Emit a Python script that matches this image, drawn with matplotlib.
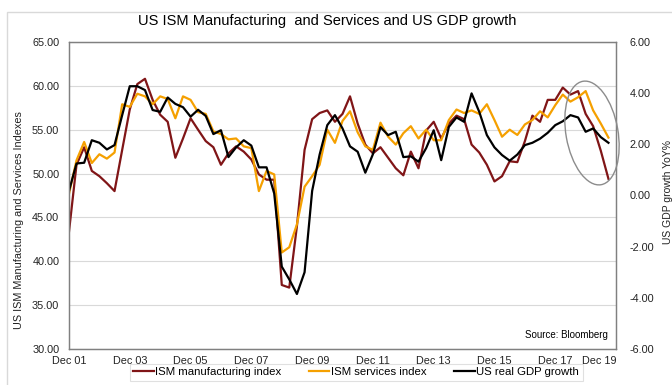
import matplotlib
matplotlib.use("Agg")
import matplotlib.pyplot as plt
from matplotlib.patches import Ellipse, Rectangle
import pandas as pd

plt.rcParams['font.family'] = ['Liberation Sans', 'DejaVu Sans']

# quarterly observations, Dec 2001 .. Sep 2019
quarters = pd.date_range('2001-12-01', periods=72, freq='3MS')

ism_manufacturing = [
    43.4, 51.0, 53.0, 50.3, 49.7, 48.9, 48.0, 52.7, 57.3, 60.2, 60.8, 58.4,
    56.7, 55.9, 51.8, 54.0, 56.3, 55.0, 53.7, 53.0, 51.0, 52.3, 53.1, 52.5,
    51.6, 49.9, 49.3, 49.3, 37.3, 37.0, 44.0, 52.7, 56.2, 56.9, 57.2, 55.9,
    56.8, 58.8, 55.7, 53.3, 52.3, 53.0, 51.8, 50.6, 49.8, 52.5, 50.6, 54.9,
    55.9, 54.0, 55.7, 56.6, 56.2, 53.3, 52.4, 51.0, 49.1, 49.7, 51.4, 51.3,
    53.7, 56.6, 55.9, 58.4, 58.4, 59.8, 59.0, 59.4, 56.8, 55.4, 52.6, 49.4]

ism_services = [
    47.7, 51.5, 53.6, 51.2, 52.2, 51.7, 52.4, 57.9, 57.6, 59.1, 58.8, 57.9,
    58.8, 58.5, 56.3, 58.8, 58.4, 57.0, 56.8, 54.8, 54.5, 53.9, 54.0, 53.1,
    52.9, 48.0, 50.3, 49.9, 41.0, 41.6, 44.2, 48.5, 49.7, 51.0, 55.0, 53.5,
    56.0, 57.1, 54.7, 53.1, 52.7, 55.8, 54.2, 53.3, 54.6, 55.4, 54.0, 55.0,
    53.8, 53.8, 56.1, 57.3, 56.9, 57.2, 56.8, 57.9, 56.1, 54.2, 55.0, 54.4,
    55.6, 56.1, 57.1, 56.4, 57.8, 59.0, 58.2, 58.7, 59.4, 57.2, 55.7, 54.1]

gdp_growth = [
    0.18, 1.25, 1.28, 2.16, 2.06, 1.80, 1.97, 3.14, 4.27, 4.27, 4.12, 3.34,
    3.27, 3.83, 3.58, 3.45, 3.08, 3.35, 3.11, 2.40, 2.55, 1.50, 1.88, 2.16,
    1.95, 1.10, 1.10, 0.08, -2.78, -3.28, -3.85, -3.00, 0.18, 1.60, 2.75, 3.14,
    2.62, 1.92, 1.71, 0.89, 1.61, 2.67, 2.36, 2.49, 1.50, 1.53, 1.32, 1.85,
    2.55, 1.38, 2.68, 3.05, 2.88, 3.99, 3.27, 2.36, 1.88, 1.58, 1.36, 1.60,
    1.97, 2.06, 2.22, 2.45, 2.75, 2.90, 3.14, 3.05, 2.49, 2.62, 2.28, 2.06]

tick_dates = pd.date_range('2001-12-01', periods=10, freq='24MS')
tick_labels = ['Dec 01', 'Dec 03', 'Dec 05', 'Dec 07', 'Dec 09',
               'Dec 11', 'Dec 13', 'Dec 15', 'Dec 17', 'Dec 19']

fig = plt.figure(figsize=(6.72, 3.85), dpi=100)
ax = fig.add_axes([0.1027, 0.0935, 0.814, 0.7975])
ax2 = ax.twinx()

ln1, = ax.plot(quarters, ism_manufacturing, color='#801517', lw=1.6)
ln2, = ax.plot(quarters, ism_services, color='#f5a000', lw=1.6)
ln3, = ax2.plot(quarters, gdp_growth, color='black', lw=1.6)

ax.set_ylim(30, 65)
ax.set_yticks(range(30, 66, 5))
ax.set_yticklabels([f'{v:.2f}' for v in range(30, 66, 5)])
ax2.set_ylim(-6, 6)
ax2.set_yticks(range(-6, 7, 2))
ax2.set_yticklabels([f'{v:.2f}' for v in range(-6, 7, 2)])

ax.set_xlim(tick_dates[0], tick_dates[-1])
ax.set_xticks(tick_dates)
ax.set_xticklabels(tick_labels)
ax.get_xticklabels()[-1].set_horizontalalignment('right')

ax.grid(axis='y', color='#d9d9d9', lw=0.8)
ax.set_axisbelow(True)
for a in (ax, ax2):
    a.tick_params(length=0, labelsize=7.8, colors='#222222')
    for s in a.spines.values():
        s.set_color('#808080')
        s.set_linewidth(0.9)
ax.tick_params(axis='y', pad=7)
ax2.tick_params(axis='y', pad=10)
ax.tick_params(axis='x', pad=5)

ax.set_ylabel('US ISM Manufacturing and Services Indexes', fontsize=7.8, color='#222222')
ax.yaxis.set_label_coords(-0.082, 0.42)
ax2.set_ylabel('US GDP growth YoY%', fontsize=7.5, color='#222222')
ax2.yaxis.set_label_coords(1.086, 0.51)

fig.text(0.487, 0.945, 'US ISM Manufacturing  and Services and US GDP growth',
         ha='center', va='center', fontsize=10.5)
ax.text(0.985, 0.03, 'Source: Bloomberg', transform=ax.transAxes,
        ha='right', va='bottom', fontsize=7)

# highlight of the latest readings
fig.patches.append(Ellipse((5.92, 2.52), 1.05, 0.52, angle=100, fill=False,
                           edgecolor='#8c8c8c', lw=1.0,
                           transform=fig.dpi_scale_trans, figure=fig))
# chart area border
fig.patches.append(Rectangle((0.065, -0.1), 7.0, 3.83, fill=False,
                             edgecolor='#d9d9d9', lw=1.0,
                             transform=fig.dpi_scale_trans, figure=fig))

leg = fig.legend([ln1, ln2, ln3],
                 ['ISM manufacturing index', 'ISM services index', 'US real GDP growth'],
                 loc='upper center', bbox_to_anchor=(0.53, 0.055), ncol=3,
                 fontsize=8.2, frameon=True, fancybox=False, handlelength=1.8,
                 handletextpad=0.15, columnspacing=2.4, borderpad=0.3,
                 borderaxespad=0)
leg.get_frame().set_edgecolor('#d9d9d9')
leg.get_frame().set_linewidth(0.8)

fig.savefig('out.png', dpi=100)
